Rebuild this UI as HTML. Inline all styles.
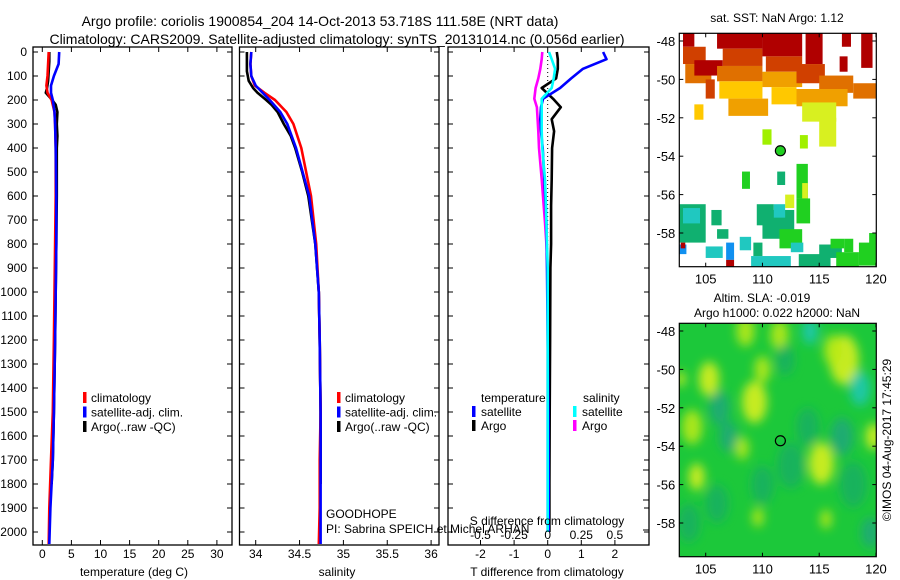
<!DOCTYPE html>
<html><head><meta charset="utf-8">
<style>
html,body{margin:0;padding:0;background:#fff;}
svg{display:block;font-family:"Liberation Sans",sans-serif;}
text{fill:#000;}
</style></head>
<body>
<svg id="fig" width="900" height="580" viewBox="0 0 900 580" xmlns="http://www.w3.org/2000/svg">
<defs>
<filter id="blur" x="-20%" y="-20%" width="140%" height="140%"><feGaussianBlur stdDeviation="5"/></filter>
<clipPath id="clipMap2"><rect x="679" y="323" width="197" height="234"/></clipPath>
</defs>
<text x="320" y="26" font-size="14" text-anchor="middle">Argo profile: coriolis 1900854_204 14-Oct-2013 53.718S 111.58E (NRT data)</text>
<text x="337" y="44" font-size="14" text-anchor="middle">Climatology: CARS2009. Satellite-adjusted climatology: synTS_20131014.nc (0.056d earlier)</text>
<g id="g1"></g>
<g id="g2"></g>
<g id="g3"></g>
<g id="m1"></g>
<g id="m2"></g>
<text x="777" y="22" font-size="12" text-anchor="middle">sat. SST: NaN Argo: 1.12</text>
<text x="762" y="302" font-size="12" text-anchor="middle">Altim. SLA: -0.019</text>
<text x="777" y="317" font-size="12" text-anchor="middle">Argo h1000: 0.022 h2000: NaN</text>
<text transform="translate(891,440) rotate(-90)" font-size="12" text-anchor="middle">©IMOS 04-Aug-2017 17:45:29</text>
<text x="326" y="518" font-size="12">GOODHOPE</text>
<text x="326" y="533" font-size="12">PI: Sabrina SPEICH et Michel ARHAN</text>
</svg>
<script>
// ---- data ----
const depthTicks = [0,100,200,300,400,500,600,700,800,900,1000,1100,1200,1300,1400,1500,1600,1700,1800,1900,2000];
const tempTicks = [0,5,10,15,20,25,30];
const salTicks = [34,34.5,35,35.5,36];
const tdiffTicks = [-2,-1,0,1,2];
const sdiffTicks = [-0.5,-0.25,0,0.25,0.5];
const depthClim = [0,50,100,140,170,200,250,300,400,600,800,1000,1200,1500,1700,1900,2050];
const tempClim = [1.1,1.0,0.9,0.7,0.9,1.6,2.1,2.2,2.3,2.3,2.2,2.1,2.0,1.8,1.5,1.2,1.1];
const tempSat = [2.9,2.8,2.0,1.5,1.5,1.8,2.1,2.2,2.3,2.4,2.4,2.3,2.2,2.0,1.8,1.4,1.2];
const depthArgo = [0,40,80,120,150,170,200,220,250,300,350,400,500,600,800,1000,1200,1500,1700,1800];
const tempArgo = [1.2,1.2,1.1,1.0,0.8,0.6,1.7,2.3,2.6,2.5,2.6,2.5,2.5,2.5,2.4,2.3,2.2,2.0,1.8,1.6];
const salClim = [33.95,33.94,33.95,33.99,34.1,34.22,34.35,34.43,34.52,34.63,34.69,34.72,34.73,34.74,34.73,34.73,34.72];
const salSat = [33.95,33.94,33.95,34.0,34.08,34.16,34.28,34.36,34.46,34.61,34.68,34.72,34.73,34.74,34.74,34.74,34.74];
const salArgo = [33.9,33.9,33.9,33.92,33.97,34.02,34.12,34.18,34.25,34.32,34.4,34.45,34.53,34.6,34.68,34.72,34.73,34.74,34.74,34.74];
const depthDiff = [0,30,70,110,150,195,230,280,330,400,530,640,710,800,900,1200,1500,1800,2000];
const tdiffSat = [1.65,1.75,1.05,0.7,0.37,-0.14,-0.2,-0.22,-0.2,-0.15,-0.1,-0.06,-0.04,-0.03,-0.02,0.0,0.02,0.03,0.03];
const tdiffArgo = [0.27,0.3,0.3,0.25,-0.18,0.16,0.39,0.12,0.19,0.13,0.12,0.1,0.1,0.1,0.08,0.07,0.06,0.05,0.05];
const sdiffSat = [0.01,0.03,0.055,0.045,0.03,-0.045,-0.045,-0.045,-0.045,-0.04,-0.02,-0.013,-0.01,-0.005,0.0,0.0,0.0,0.0,0.0];
const sdiffArgo = [-0.04,-0.045,-0.055,-0.07,-0.09,-0.1,-0.08,-0.075,-0.07,-0.065,-0.045,-0.03,-0.02,-0.01,0.0,0.0,0.0,0.0,0.0];
const lonTicks = [105,110,115,120];
const latTicks = [-48,-50,-52,-54,-56,-58];
const argoLon = 111.58, argoLat = -53.718;
// SST cells: [lon1, lat1, lon2, lat2, colorIndex]
const sstPalette = ['#b00000','#d04000','#e07000','#f0a000','#ffc800','#d8f020','#a0f000','#20d020','#10b070','#20c8c0','#1090f0'];
const sstCells = [
[103,-47.6,104,-48.3,0],[103,-48.3,105,-49.2,1],[103.2,-49.2,105.5,-50.2,2],[104,-49,106.5,-49.8,0],[105,-50,105.8,-51,1],[104,-51.3,104.8,-52.1,4],
[106,-47.6,110,-48.4,0],[106.5,-48.4,110,-49.3,1],[106,-49.3,110,-50.1,2],[106.2,-50.1,110,-51,4],[107,-51,110.5,-51.9,3],
[110,-47.6,113.5,-48.8,0],[110.3,-48.8,113.5,-49.6,1],[110,-49.6,113.5,-50.4,3],[110.8,-50.4,113,-51.3,4],
[113.8,-47.6,115.3,-49.2,0],[113,-49.2,115.5,-50.2,1],[115,-49.8,118,-50.7,2],[113,-50.5,117.5,-51.4,3],[113.5,-51.2,116.5,-52.2,5],[115,-52,116.5,-53.5,5],
[117,-47.6,117.8,-48.3,0],[118.7,-47.6,119.7,-49.4,0],[116.8,-48.8,117.5,-49.6,0],[118,-50.2,120,-51,2],
[113.3,-52.9,114,-53.6,6],[110,-52.6,110.8,-53.4,6],
[108.2,-54.8,108.9,-55.7,7],[111.3,-54.8,112,-55.5,8],[113,-54.4,114,-56.2,7],[113.5,-55.4,114,-56.2,5],[112,-56,112.8,-56.7,5],[113,-56.2,114.2,-57.5,7],
[102.7,-56.5,105,-58.5,8],[103,-56.7,104.5,-57.5,9],[105,-58.7,106.5,-59.3,9],[105.5,-56.8,106.4,-57.6,8],[106,-57.8,107,-58.3,8],[106.8,-58.5,107.5,-59.4,10],[106.8,-59.4,107.5,-59.8,0],
[109.5,-56.5,111,-57.6,8],[110,-56.8,112.8,-58.3,8],[111,-56.5,112,-57.2,9],[111.5,-57.8,113.5,-58.8,7],[108,-58.2,109,-58.9,9],[109.2,-58.5,110,-59.2,8],
[109,-59.2,112.5,-59.8,9],[112.5,-58.5,113.6,-59,9],[113.2,-59.1,116,-59.8,8],[115,-58.6,117,-59.3,8],[116,-58.3,117.2,-58.8,7],[116.5,-59,118.5,-59.8,7],
[117.2,-58.3,118,-59,7],[118.5,-58.5,120,-59.7,7],[119.4,-58,120,-58.6,7],[102.7,-58.6,103.3,-59.1,10],[102.8,-58.5,103.2,-58.8,0]
];
// SLA blobs: [lon, lat, radius(deg), colorIndex]
const slaPalette = ['#d8f020','#b8ea18','#20a878','#20c8b0','#18b060'];
const slaBlobs = [
[105.3,-50.5,0.9,0],[109.3,-51.7,1.1,0],[108.5,-48,0.8,1],[111.5,-48.2,0.8,1],[117.2,-49.5,1.3,0],[116.2,-49,0.8,1],[114.2,-48,0.7,3],
[115.2,-54.9,1.1,0],[104.2,-55.6,0.7,0],[119.8,-53.5,0.7,0],[108.2,-54.1,0.6,1],[103.8,-53,0.9,1],[102.8,-50.5,0.4,0],[110,-50,0.7,1],[109.6,-57.7,0.5,1],[115.6,-57.8,0.5,1],
[106.2,-52,0.9,2],[107,-53.5,0.8,2],[118.6,-51,0.9,3],[112.5,-55,1.2,4],[114,-53,1.0,4],[110,-56,1,4],[106,-57,1,4],[118,-56,1.2,4],[117,-53.5,1,2],[112,-49.5,0.8,4],[103.5,-58,1,4],[119.5,-58.5,0.8,2]
];

const NS='http://www.w3.org/2000/svg';
function mk(tag, attrs, parent){const e=document.createElementNS(NS,tag);for(const k in attrs)e.setAttribute(k,attrs[k]);parent.appendChild(e);return e;}

const yTop=52, yPer=0.24, boxTop=47, boxBot=545;
const yD = d => yTop + d*yPer;

function panel(g, x0, x1, name){
  const r=mk('rect',{x:x0,y:boxTop,width:x1-x0,height:boxBot-boxTop,fill:'none',stroke:'#000','stroke-width':1.3},g);
  
  
  depthTicks.forEach(d=>{
    const y=yD(d);
    mk('line',{x1:x0,y1:y,x2:x0+5,y2:y,stroke:'#000'},g);
    mk('line',{x1:x1,y1:y,x2:x1-5,y2:y,stroke:'#000'},g);
  });
}
function line(g, xs, ds, fx, color, name, w){
  let p='';
  for(let i=0;i<xs.length;i++){p+=(i?'L':'M')+fx(xs[i]).toFixed(1)+','+yD(ds[i]).toFixed(1);}
  const e=mk('path',{d:p,fill:'none',stroke:color,'stroke-width':w||2.6,'stroke-linejoin':'round'},g);
  
  
}
function xticks(g, ticks, fx, y, fs){
  ticks.forEach(t=>{
    const x=fx(t);
    mk('line',{x1:x,y1:boxBot,x2:x,y2:boxBot-5,stroke:'#000'},g);
    mk('line',{x1:x,y1:boxTop,x2:x,y2:boxTop+5,stroke:'#000'},g);
    const tx=mk('text',{x:x,y:y,'font-size':fs||12,'text-anchor':'middle'},g);
    tx.textContent=t;
    
    
  });
}
function legend(g, x, y, items){
  items.forEach((it,i)=>{
    mk('rect',{x:x,y:y+i*14.5-6,width:3.5,height:11,fill:it[1]},g);
    const t=mk('text',{x:x+8,y:y+i*14.5+4,'font-size':12},g);
    t.textContent=it[0];
    
    
  });
}

// Panel 1 temperature
const g1=document.getElementById('g1');
const xT = v => 42.3 + v*5.82;
panel(g1,33,232,'temperature');
depthTicks.forEach(d=>{const t=mk('text',{x:27,y:yD(d)+4,'font-size':12,'text-anchor':'end'},g1);t.textContent=d;
  
  });
xticks(g1,tempTicks,xT,558);
line(g1,tempArgo,depthArgo,xT,'#000','temp-argo-line');
line(g1,tempClim,depthClim,xT,'#f00','temp-climatology-line');
line(g1,tempSat,depthClim,xT,'#00f','temp-satellite-line');
legend(g1,83,398,[['climatology','#f00'],['satellite-adj. clim.','#00f'],['Argo(..raw -QC)','#000']]);
let t=mk('text',{x:134,y:576,'font-size':12,'text-anchor':'middle'},g1);t.textContent='temperature (deg C)';



// Panel 2 salinity
const g2=document.getElementById('g2');
const xS = v => 255.7 + (v-34)*87.7;
panel(g2,239.5,439,'salinity');
xticks(g2,salTicks,xS,558);
line(g2,salArgo,depthArgo,xS,'#000','sal-argo-line');
line(g2,salClim,depthClim,xS,'#f00','sal-climatology-line');
line(g2,salSat,depthClim,xS,'#00f','sal-satellite-line');
legend(g2,337,398,[['climatology','#f00'],['satellite-adj. clim.','#00f'],['Argo(..raw -QC)','#000']]);
t=mk('text',{x:337,y:576,'font-size':12,'text-anchor':'middle'},g2);t.textContent='salinity';



// Panel 3 differences
const g3=document.getElementById('g3');
const xTd = v => 547.7 + v*33.6;
const xSd = v => 547.7 + v*134.4;
panel(g3,448,649,'difference');
xticks(g3,tdiffTicks,xTd,558);
mk('line',{x1:xTd(0),y1:yD(0),x2:xTd(0),y2:yD(2000),stroke:'#000','stroke-dasharray':'1,3'},g3);
line(g3,sdiffArgo,depthDiff,xSd,'#f0f','sdiff-argo-line');
line(g3,tdiffArgo,depthDiff,xTd,'#000','tdiff-argo-line');
line(g3,tdiffSat,depthDiff,xTd,'#00f','tdiff-satellite-line');
line(g3,sdiffSat,depthDiff,xSd,'#0ff','sdiff-satellite-line');
sdiffTicks.forEach(v=>{const tx=mk('text',{x:xSd(v),y:539,'font-size':12,'text-anchor':'middle'},g3);tx.textContent=v;
  
  });
[440,470,500,530].forEach(y=>mk('line',{x1:643,y1:y,x2:649,y2:y,stroke:'#000'},g3));
t=mk('text',{x:547,y:525,'font-size':12,'text-anchor':'middle'},g3);t.textContent='S difference from climatology';


t=mk('text',{x:547,y:576,'font-size':12,'text-anchor':'middle'},g3);t.textContent='T difference from climatology';


t=mk('text',{x:481,y:402,'font-size':12},g3);t.textContent='temperature';
t=mk('text',{x:583,y:402,'font-size':12},g3);t.textContent='salinity';
[[472,412,'#00f','satellite'],[472,426,'#000','Argo'],[573,412,'#0ff','satellite'],[573,426,'#f0f','Argo']].forEach(a=>{
  mk('rect',{x:a[0],y:a[1]-6,width:3.5,height:11,fill:a[2]},g3);
  const tx=mk('text',{x:a[0]+9,y:a[1]+4,'font-size':12},g3);tx.textContent=a[3];
  
  
});

// Maps
const mx0=679.3, mx1=876.3;
const mLon = v => 705.7 + (v-105)*11.35;
function mapAxes(g, top, bot, name){
  const mLat = v => top + 7.7 + (-48 - v)*19.2;
  latTicks.forEach(v=>{const y=mLat(v);
    mk('line',{x1:mx0,y1:y,x2:mx0+4,y2:y,stroke:'#000'},g);mk('line',{x1:mx1,y1:y,x2:mx1-4,y2:y,stroke:'#000'},g);
    const tx=mk('text',{x:mx0-4,y:y+5,'font-size':13,'text-anchor':'end'},g);tx.textContent=v;
    
    });
  lonTicks.forEach(v=>{const x=mLon(v);
    mk('line',{x1:x,y1:bot,x2:x,y2:bot-4,stroke:'#000'},g);mk('line',{x1:x,y1:top,x2:x,y2:top+4,stroke:'#000'},g);
    const tx=mk('text',{x:x,y:bot+17,'font-size':13,'text-anchor':'middle'},g);tx.textContent=v;
    
    });
  const r=mk('rect',{x:mx0,y:top,width:mx1-mx0,height:bot-top,fill:'none',stroke:'#000','stroke-width':1.2},g);
  
  
  const c=mk('circle',{cx:mLon(argoLon),cy:mLat(argoLat),r:5,fill:'none',stroke:'#000','stroke-width':1.2},g);
  
  
  return mLat;
}
const m1=document.getElementById('m1');
{
  const top=33.3, bot=266.7;
  const mLat = v => top + 7.7 + (-48 - v)*19.2;
  sstCells.forEach(c=>{
    const x=mLon(c[0]), x2=mLon(c[2]), y=mLat(c[1]), y2=mLat(c[3]);
    const r=mk('rect',{x:Math.max(x,mx0),y:Math.max(y,top),width:Math.min(x2,mx1)-Math.max(x,mx0),height:Math.min(y2,bot)-Math.max(y,top),fill:sstPalette[c[4]]},m1);
    
    
  });
  mk('circle',{cx:mLon(argoLon),cy:mLat(argoLat),r:4.5,fill:'#20d020'},m1);
  mapAxes(m1,top,bot,'sst-map');
}
const m2=document.getElementById('m2');
{
  const top=323.3, bot=556.7;
  const mLat = v => top + 7.7 + (-48 - v)*19.2;
  const cg=mk('g',{'clip-path':'url(#clipMap2)'},m2);
  mk('rect',{x:mx0,y:top,width:mx1-mx0,height:bot-top,fill:'#1cc83a'},cg);
  const bg=mk('g',{filter:'url(#blur)'},cg);
  slaBlobs.forEach(b=>{
    const e=mk('ellipse',{cx:mLon(b[0]),cy:mLat(b[1]),rx:b[2]*11.35,ry:b[2]*19.2,fill:slaPalette[b[3]],opacity:0.9},bg);
    
    
  });
  mapAxes(m2,top,bot,'sla-map');
}
</script>
</body></html>
